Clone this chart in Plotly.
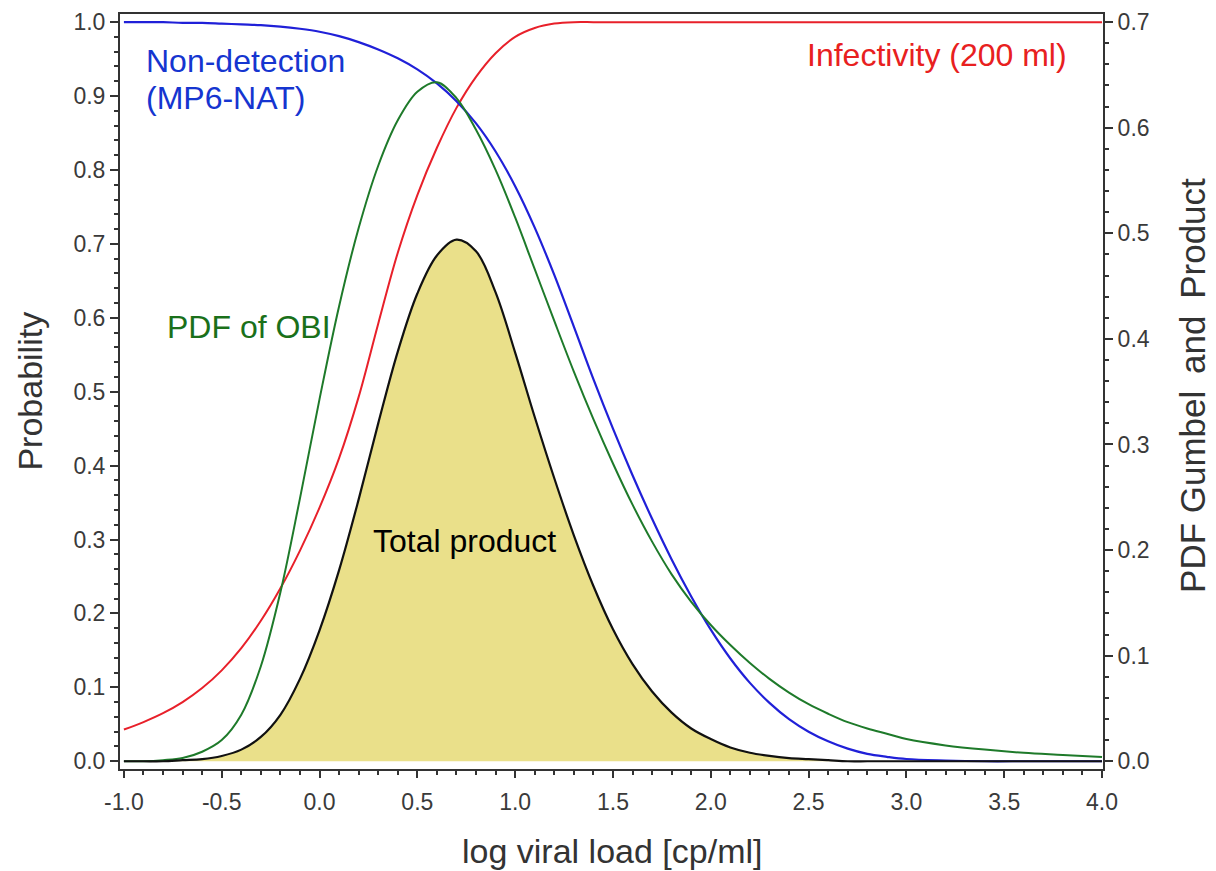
import plotly.graph_objects as go

# log viral load grid
x_vals = [-1.0, -0.9, -0.8, -0.7, -0.6, -0.5, -0.4, -0.3, -0.2, -0.1,
          0.0, 0.1, 0.2, 0.3, 0.4, 0.5, 0.6, 0.7, 0.8, 0.9,
          1.0, 1.1, 1.2, 1.3, 1.4, 1.5, 1.6, 1.7, 1.8, 1.9,
          2.0, 2.1, 2.2, 2.3, 2.4, 2.5, 2.6, 2.7, 2.8, 2.9,
          3.0, 3.2, 3.4, 3.6, 3.8, 4.0]

# Non-detection probability (MP6-NAT), left axis
non_detection = [1.000, 1.000, 1.000, 0.999, 0.999, 0.998, 0.997, 0.996, 0.994, 0.991,
                 0.987, 0.981, 0.973, 0.963, 0.951, 0.936, 0.917, 0.893, 0.863, 0.825,
                 0.778, 0.722, 0.658, 0.588, 0.517, 0.450, 0.387, 0.328, 0.273, 0.223,
                 0.178, 0.139, 0.106, 0.079, 0.057, 0.040, 0.027, 0.017, 0.010, 0.006,
                 0.003, 0.001, 0.000, 0.000, 0.000, 0.000]

# Infectivity (200 ml), left axis
infectivity = [0.043, 0.053, 0.065, 0.080, 0.099, 0.123, 0.153, 0.190, 0.234, 0.285,
               0.343, 0.410, 0.493, 0.592, 0.688, 0.766, 0.830, 0.884, 0.926, 0.958,
               0.980, 0.992, 0.998, 1.000, 1.000, 1.000, 1.000, 1.000, 1.000, 1.000,
               1.000, 1.000, 1.000, 1.000, 1.000, 1.000, 1.000, 1.000, 1.000, 1.000,
               1.000, 1.000, 1.000, 1.000, 1.000, 1.000]

# PDF of OBI (Gumbel), right axis
pdf_obi = [0.000, 0.000, 0.001, 0.003, 0.009, 0.020, 0.044, 0.090, 0.160, 0.249,
           0.343, 0.431, 0.505, 0.564, 0.607, 0.634, 0.643, 0.628, 0.598, 0.560,
           0.515, 0.466, 0.417, 0.369, 0.324, 0.282, 0.243, 0.208, 0.177, 0.151,
           0.129, 0.110, 0.093, 0.078, 0.065, 0.054, 0.045, 0.037, 0.031, 0.026,
           0.021, 0.015, 0.011, 0.008, 0.006, 0.004]

# Total product, right axis
total_product = [0.000, 0.000, 0.000, 0.001, 0.002, 0.005, 0.011, 0.023, 0.044, 0.078,
                 0.124, 0.181, 0.248, 0.320, 0.388, 0.443, 0.479, 0.494, 0.483, 0.444,
                 0.387, 0.326, 0.268, 0.214, 0.166, 0.125, 0.092, 0.066, 0.046, 0.031,
                 0.021, 0.013, 0.008, 0.005, 0.003, 0.002, 0.001, 0.000, 0.000, 0.000,
                 0.000, 0.000, 0.000, 0.000, 0.000, 0.000]

x_ticks = [-1.0, -0.5, 0.0, 0.5, 1.0, 1.5, 2.0, 2.5, 3.0, 3.5, 4.0]
x_tick_labels = ["-1.0", "-0.5", "0.0", "0.5", "1.0", "1.5", "2.0", "2.5", "3.0", "3.5", "4.0"]
y_ticks = [0.0, 0.1, 0.2, 0.3, 0.4, 0.5, 0.6, 0.7, 0.8, 0.9, 1.0]
y2_ticks = [0.0, 0.1, 0.2, 0.3, 0.4, 0.5, 0.6, 0.7]

FONT = "Liberation Sans, Arial, sans-serif"
AXC = "#333333"

fig = go.Figure()

line_kw = dict(shape="spline", smoothing=1.0)

fig.add_trace(go.Scatter(x=x_vals, y=total_product, yaxis="y2", mode="lines",
                         fill="tozeroy", fillcolor="#EAE08A",
                         line=dict(color="rgba(0,0,0,0)", width=0, **line_kw),
                         hoverinfo="skip", showlegend=False))
fig.add_trace(go.Scatter(x=x_vals, y=infectivity, yaxis="y", mode="lines",
                         line=dict(color="#E8202A", width=2, **line_kw), showlegend=False))
fig.add_trace(go.Scatter(x=x_vals, y=non_detection, yaxis="y", mode="lines",
                         line=dict(color="#2020D8", width=2.2, **line_kw), showlegend=False))
fig.add_trace(go.Scatter(x=x_vals, y=pdf_obi, yaxis="y2", mode="lines",
                         line=dict(color="#1E7A2A", width=2, **line_kw), showlegend=False))
fig.add_trace(go.Scatter(x=x_vals, y=total_product, yaxis="y2", mode="lines",
                         line=dict(color="#111111", width=2.2, **line_kw), showlegend=False))

ann_font = 32
title_font = dict(family=FONT, size=34, color="#333333")
annotations = [
    dict(x=-0.895, y=0.947, xref="x", yref="y", text="Non-detection", showarrow=False,
         xanchor="left", yanchor="middle", font=dict(family=FONT, size=ann_font, color="#1535D0")),
    dict(x=-0.895, y=0.897, xref="x", yref="y", text="(MP6-NAT)", showarrow=False,
         xanchor="left", yanchor="middle", font=dict(family=FONT, size=ann_font, color="#1535D0")),
    dict(x=3.83, y=0.956, xref="x", yref="y", text="Infectivity (200 ml)", showarrow=False,
         xanchor="right", yanchor="middle", font=dict(family=FONT, size=ann_font, color="#E82020")),
    dict(x=-0.79, y=0.588, xref="x", yref="y", text="PDF of OBI", showarrow=False,
         xanchor="left", yanchor="middle", font=dict(family=FONT, size=ann_font, color="#1A701A")),
    dict(x=0.263, y=0.298, xref="x", yref="y", text="Total product", showarrow=False,
         xanchor="left", yanchor="middle", font=dict(family=FONT, size=ann_font, color="#000000")),
    # axis titles
    dict(x=0.501, y=-0.1085, xref="paper", yref="paper", text="log viral load [cp/ml]",
         showarrow=False, xanchor="center", yanchor="middle", font=title_font),
    dict(x=-0.0925, y=0.50, xref="paper", yref="paper", text="Probability", textangle=-90,
         showarrow=False, xanchor="center", yanchor="middle", font=title_font),
    dict(x=1.0905, y=0.5086, xref="paper", yref="paper",
         text="PDF Gumbel \u2009and \u2009Product", textangle=-90,
         showarrow=False, xanchor="center", yanchor="middle",
         font=dict(family=FONT, size=35, color="#333333")),
]

tick_font = dict(family=FONT, size=23, color="#3a3a3a")

fig.update_layout(
    width=1216, height=871,
    margin=dict(l=120, r=113, t=14, b=102, autoexpand=False),
    paper_bgcolor="white", plot_bgcolor="white",
    showlegend=False,
    annotations=annotations,
    xaxis=dict(range=[-1.02, 4.005], tickvals=x_ticks, ticktext=x_tick_labels,
               ticks="outside", ticklen=7, tickwidth=1.5, tickcolor=AXC,
               minor=dict(dtick=0.1, tick0=-1.0, ticks="outside", ticklen=4, tickcolor=AXC),
               showline=True, linecolor=AXC, linewidth=2, mirror=True, automargin=False,
               showgrid=False, zeroline=False, tickfont=tick_font, ticklabelstandoff=4),
    yaxis=dict(range=[-0.0105, 1.011], tickvals=y_ticks, tickformat=".1f",
               ticks="outside", ticklen=8, tickwidth=1.5, tickcolor=AXC,
               minor=dict(dtick=0.02, tick0=0, ticks="outside", ticklen=4, tickcolor=AXC),
               showline=True, linecolor=AXC, linewidth=2, automargin=False,
               showgrid=False, zeroline=False, tickfont=tick_font),
    yaxis2=dict(range=[-0.00735, 0.7077], tickvals=y2_ticks, tickformat=".1f",
                overlaying="y", side="right",
                ticks="outside", ticklen=8, tickwidth=1.5, tickcolor=AXC,
                minor=dict(dtick=0.02, tick0=0, ticks="outside", ticklen=4, tickcolor=AXC),
                showline=True, linecolor=AXC, linewidth=2, automargin=False,
                showgrid=False, zeroline=False, tickfont=tick_font),
)

fig.write_html("out.html")
